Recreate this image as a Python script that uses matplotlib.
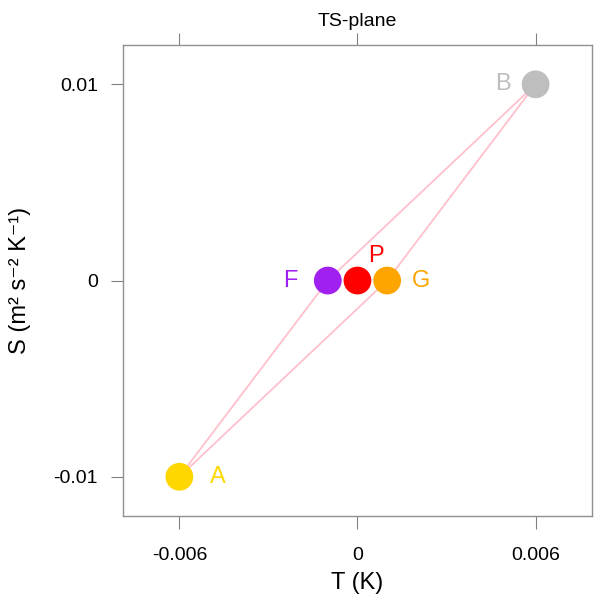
import matplotlib.pyplot as plt

plt.rcParams['font.family'] = ['Liberation Sans', 'DejaVu Sans']

# ----------------------------
# DATA
# ----------------------------
names = ["A", "B", "F", "P", "G"]
T = [-0.006, 0.006, -0.001, 0.0, 0.001]
S = [-0.01, 0.01, 0.0, 0.0, 0.0]
colors = ["#FFD700", "#BEBEBE", "#A020F0", "#FF0000", "#FFA500"]

# path through the points (indices into the lists above)
path = [0, 2, 1, 4, 0]

xticks = [-0.006, 0, 0.006]
xticklabels = ["-0.006", "0", "0.006"]
yticks = [-0.01, 0, 0.01]
yticklabels = ["-0.01", "0", "0.01"]

# ----------------------------
# PLOT
# ----------------------------
fig = plt.figure(figsize=(5.94, 6.01), dpi=100)
ax = fig.add_axes([0.207, 0.1414, 0.7896, 0.7836])

ax.plot([T[i] for i in path], [S[i] for i in path], color="#FFC0CB", lw=1.3, zorder=1)

for name, t, s, c in zip(names, T, S, colors):
    ax.scatter(t, s, s=400, color=c, edgecolors="none", zorder=3)

# point labels
offsets = {"A": (22, 0, "left", "center"),
           "B": (-18, 0, "right", "center"),
           "F": (-22, 0, "right", "center"),
           "G": (18, 0, "left", "center"),
           "P": (8, 10, "left", "bottom")}
for name, t, s, c in zip(names, T, S, colors):
    dx, dy, ha, va = offsets[name]
    ax.annotate(name, (t, s), xytext=(dx, dy), textcoords="offset points",
                ha=ha, va=va, color=c, fontsize=17)

ax.set_xlim(-0.0079, 0.0079)
ax.set_ylim(-0.012, 0.012)
ax.set_xticks(xticks)
ax.set_xticklabels(xticklabels)
ax.set_yticks(yticks)
ax.set_yticklabels(yticklabels)
ax.tick_params(direction="out", length=9, width=0.8, color="#808080",
               labelsize=14, top=True, right=False)
ax.tick_params(axis="x", pad=13)
ax.tick_params(axis="y", pad=9)

for sp in ax.spines.values():
    sp.set_color("#909090")
    sp.set_linewidth(1.0)

ax.set_title("TS-plane", fontsize=14, pad=14)
ax.set_xlabel("T (K)", fontsize=17, labelpad=6)
ax.set_ylabel("S (m² s⁻² K⁻¹)", fontsize=17, labelpad=16)

plt.savefig("out.png", dpi=100)
